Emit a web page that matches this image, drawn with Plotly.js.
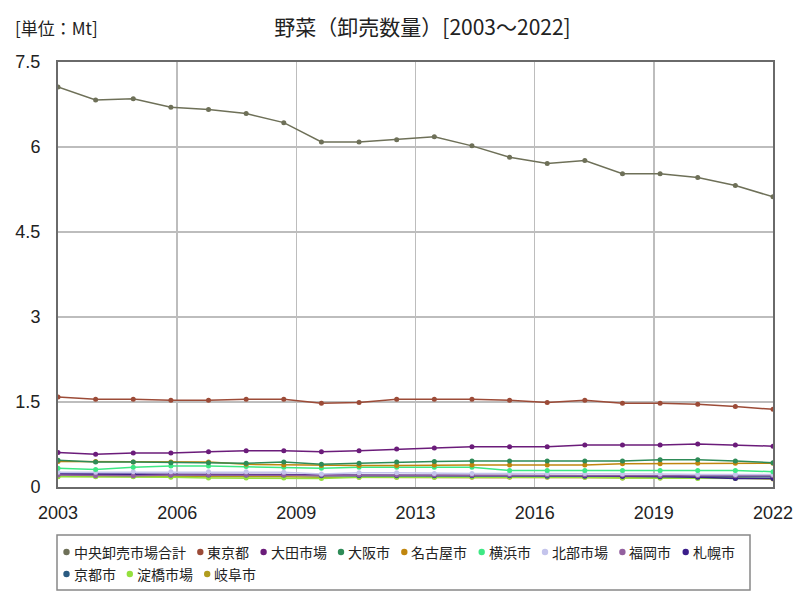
<!DOCTYPE html>
<html>
<head>
<meta charset="utf-8">
<script src="https://cdn.plot.ly/plotly-3.0.1.min.js"></script>
<style>html,body{margin:0;padding:0;background:#fff;}#chart{width:800px;height:600px;}</style>
</head>
<body>
<div id="chart"></div>
<script>
// ---- data ----
const years = [2003,2004,2005,2006,2007,2008,2009,2010,2011,2012,2013,2014,2015,2016,2017,2018,2019,2020,2021,2022];
const xTickLabels = ['2003','2006','2009','2013','2016','2019','2022'];
const seriesNames = ['中央卸売市場合計','東京都','大田市場','大阪市','名古屋市','横浜市','北部市場','福岡市','札幌市','京都市','淀橋市場','岐阜市'];
const seriesColors = ['#6e7058','#9c4b37','#6b1c7a','#2e8b57','#c0860e','#3ee884','#c4c4ec','#93609f','#3a1d8a','#2a5b82','#94e03e','#b09c1e'];

const total     = [7.06,6.83,6.85,6.70,6.66,6.59,6.43,6.09,6.09,6.13,6.18,6.02,5.82,5.71,5.76,5.53,5.53,5.46,5.32,5.12];
const tokyo     = [1.59,1.55,1.55,1.53,1.53,1.55,1.55,1.48,1.49,1.55,1.55,1.55,1.53,1.49,1.53,1.48,1.48,1.46,1.42,1.37];
const ota       = [0.61,0.58,0.60,0.60,0.62,0.64,0.64,0.62,0.64,0.67,0.69,0.71,0.71,0.71,0.74,0.74,0.74,0.76,0.74,0.72];
const osaka     = [0.47,0.44,0.44,0.43,0.43,0.42,0.44,0.40,0.42,0.44,0.45,0.46,0.46,0.46,0.46,0.46,0.48,0.48,0.46,0.43];
const nagoya    = [0.45,0.45,0.44,0.44,0.44,0.40,0.39,0.38,0.38,0.38,0.39,0.39,0.39,0.39,0.39,0.41,0.41,0.42,0.42,0.42];
const yokohama  = [0.33,0.31,0.35,0.37,0.37,0.36,0.35,0.33,0.35,0.35,0.35,0.35,0.29,0.29,0.29,0.29,0.29,0.29,0.29,0.27];
const hokubu    = [0.26,0.26,0.27,0.27,0.27,0.27,0.26,0.23,0.25,0.25,0.24,0.24,0.24,0.24,0.24,0.23,0.23,0.22,0.22,0.22];
const fukuoka   = [0.21,0.20,0.20,0.21,0.21,0.21,0.21,0.21,0.21,0.21,0.21,0.21,0.21,0.21,0.21,0.21,0.20,0.20,0.20,0.20];
const sapporo   = [0.23,0.23,0.23,0.22,0.22,0.22,0.22,0.21,0.21,0.21,0.21,0.21,0.21,0.21,0.20,0.19,0.19,0.17,0.15,0.15];
const kyoto     = [0.22,0.22,0.21,0.21,0.21,0.21,0.21,0.20,0.20,0.20,0.20,0.20,0.20,0.19,0.19,0.19,0.18,0.18,0.18,0.18];
const yodobashi = [0.18,0.18,0.18,0.17,0.16,0.16,0.16,0.15,0.17,0.17,0.17,0.18,0.18,0.18,0.17,0.16,0.16,0.15,0.15,0.15];
const gifu      = [0.19,0.19,0.19,0.18,0.18,0.18,0.18,0.17,0.17,0.17,0.17,0.17,0.17,0.17,0.17,0.16,0.16,0.16,0.16,0.14];

const seriesValues = [total,tokyo,ota,osaka,nagoya,yokohama,hokubu,fukuoka,sapporo,kyoto,yodobashi,gifu];

// ---- layout geometry (pixels) ----
const L = 58, R = 773, T = 62, B = 487;
const W = R - L, H = B - T;
const px = x => (x - L) / W;
const py = y => (B - y) / H;

const traces = [];
for (let i = seriesValues.length - 1; i >= 0; i--) {
  traces.push({
    type: 'scatter', mode: 'lines+markers',
    x: years, y: seriesValues[i], name: seriesNames[i],
    line: {color: seriesColors[i], width: 1.5},
    marker: {color: seriesColors[i], size: 5},
    showlegend: false, hoverinfo: 'skip'
  });
}

const n = 6;
const tickvals = xTickLabels.map((_, i) => years[0] + i * (years[years.length-1] - years[0]) / n);

// custom legend
const shapes = [{
  type: 'rect', xref: 'paper', yref: 'paper',
  x0: px(57), x1: px(750), y0: py(590), y1: py(535),
  line: {color: '#888', width: 1.5}, fillcolor: 'rgba(0,0,0,0)'
}];
const annotations = [{
  xref: 'paper', yref: 'paper', x: px(13), y: py(28), xanchor: 'left', yanchor: 'middle',
  text: '[単位：Mt]', showarrow: false,
  font: {family: '"Noto Sans CJK JP", sans-serif', size: 17, color: '#222'}
}];
const rows = [[0,1,2,3,4,5,6,7,8],[9,10,11]];
const rowY = [552, 574];
const cw = 14.1;
rows.forEach((row, r) => {
  let x = 66.5;
  row.forEach(i => {
    shapes.push({
      type: 'circle', xref: 'paper', yref: 'paper',
      xsizemode: 'pixel', ysizemode: 'pixel',
      xanchor: px(x), yanchor: py(rowY[r]),
      x0: -3.2, x1: 3.2, y0: -3.2, y1: 3.2,
      fillcolor: seriesColors[i], line: {width: 0}
    });
    annotations.push({
      xref: 'paper', yref: 'paper', x: px(x + 5), y: py(rowY[r]),
      xanchor: 'left', yanchor: 'middle', showarrow: false,
      text: seriesNames[i],
      font: {family: '"Noto Sans CJK JP", sans-serif', size: 14, color: '#222'}
    });
    x += 7 + seriesNames[i].length * cw + 14;
  });
});

const layout = {
  width: 800, height: 600,
  margin: {l: L, r: 800 - R, t: T, b: 600 - B},
  paper_bgcolor: '#fff', plot_bgcolor: '#fff',
  title: {
    text: '野菜（卸売数量）[2003～2022]',
    x: 0.5 + 7 / W, xref: 'paper', y: 1 - 28/600, yref: 'container', yanchor: 'middle',
    font: {family: '"Noto Sans CJK JP", sans-serif', size: 21, color: '#222'}
  },
  xaxis: {
    range: [years[0], years[years.length-1]],
    tickmode: 'array', tickvals: tickvals, ticktext: xTickLabels,
    showgrid: true, gridcolor: '#bdbdbd', gridwidth: 1.5,
    showline: true, mirror: true, linecolor: '#6a6a6a', linewidth: 2,
    zeroline: false, ticks: '', ticklabelstandoff: 8,
    tickfont: {family: '"Liberation Sans", Arial, sans-serif', size: 18, color: '#222'}
  },
  yaxis: {
    range: [0, 7.5], tick0: 0, dtick: 1.5,
    showgrid: true, gridcolor: '#bdbdbd', gridwidth: 1.5,
    showline: true, mirror: true, linecolor: '#6a6a6a', linewidth: 2,
    zeroline: false, ticks: '', ticklabelstandoff: 12,
    tickfont: {family: '"Liberation Sans", Arial, sans-serif', size: 18, color: '#222'}
  },
  showlegend: false,
  shapes: shapes,
  annotations: annotations,
  hovermode: false
};

Plotly.newPlot('chart', traces, layout, {staticPlot: true, displayModeBar: false});
</script>
</body>
</html>
